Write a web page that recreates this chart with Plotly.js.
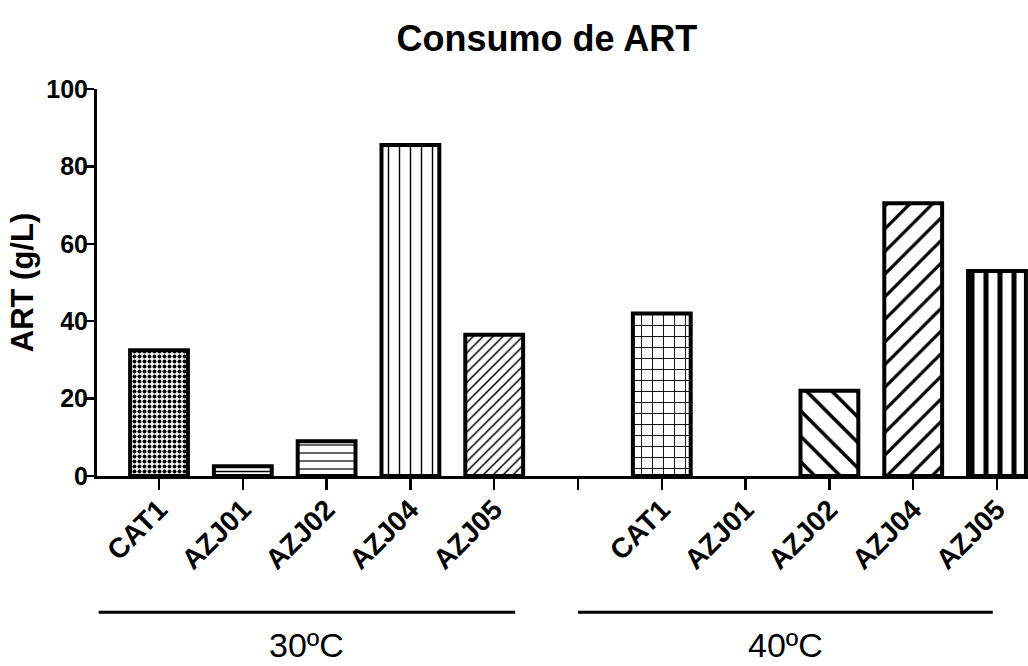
<!DOCTYPE html>
<html>
<head>
<meta charset="utf-8">
<script src="https://cdn.plot.ly/plotly-3.0.1.min.js"></script>
<style>html,body{margin:0;padding:0;background:#fff;}#chart{width:1028px;height:666px;}</style>
</head>
<body>
<div id="chart"></div>
<script>
// ---- data ----
const strains = ['CAT1', 'AZJ01', 'AZJ02', 'AZJ04', 'AZJ05'];
const temps = ['30ºC', '40ºC'];
const art30 = [32.5, 2.5, 9, 85.5, 36.5];
const art40 = [42, 0, 22, 70.5, 53];
const chartTitle = 'Consumo de ART';
const yTitle = 'ART (g/L)';
const yTicks = [0, 20, 40, 60, 80, 100];

// ---- styles ----
const FONT = 'Liberation Sans, Arial, Helvetica, sans-serif';
const pat30 = {shape: ['.', '-', '-', '|', '/'], size: [5, 5, 8, 11, 7], solidity: [0.5, 0.3, 0.15, 0.13, 0.22]};
const pat40 = {shape: ['+', '', '\\', '/', '|'], size: [11, 10, 18, 16, 14], solidity: [0.16, 0.2, 0.2, 0.2, 0.36]};

const groupSize = strains.length + 1; // one empty slot between groups
const pos = (g, i) => g * groupSize + i;

function barTrace(g, vals, pat) {
  return {
    type: 'bar',
    x: strains.map((s, i) => pos(g, i)),
    y: vals,
    width: 0.69,
    marker: {
      color: '#ffffff',
      line: {color: '#000000', width: vals.map(v => v > 0 ? 4 : 0)},
      pattern: {shape: pat.shape, size: pat.size, solidity: pat.solidity, fgcolor: '#000000', bgcolor: '#ffffff', fillmode: 'replace'}
    },
    hoverinfo: 'x+y',
    showlegend: false
  };
}

const traces = [barTrace(0, art30, pat30), barTrace(1, art40, pat40)];

const tickvals = [], ticktext = [];
temps.forEach((t, g) => {
  strains.forEach((s, i) => { tickvals.push(pos(g, i)); ticktext.push(s); });
  if (g < temps.length - 1) { tickvals.push(pos(g, strains.length)); ticktext.push(''); }
});

const shapes = [], annotations = [];
temps.forEach((t, g) => {
  const x0 = g === 0 ? pos(g, 0) - 0.72 : pos(g, 0) - 1.0;
  const x1 = pos(g, strains.length - 1) + (g === 0 ? 0.25 : -0.05);
  shapes.push({type: 'line', xref: 'x', yref: 'paper', x0: x0, x1: x1, y0: -0.352, y1: -0.352,
    line: {color: '#000000', width: 3}});
  annotations.push({xref: 'x', yref: 'paper', x: (x0 + x1) / 2, y: -0.436, text: t, showarrow: false,
    font: {family: FONT, size: 34, color: '#000000'}, xanchor: 'center', yanchor: 'middle'});
});

const layout = {
  width: 1028, height: 666,
  margin: {l: 97, r: 0, t: 89, b: 190},
  paper_bgcolor: '#ffffff', plot_bgcolor: '#ffffff',
  title: {text: '<b>' + chartTitle + '</b>', x: 0.532, xanchor: 'center', y: 0.943, yanchor: 'middle',
    font: {family: FONT, size: 36, color: '#000000'}},
  font: {family: FONT, color: '#000000'},
  xaxis: {
    range: [-0.74, 10.37], tickmode: 'array', tickvals: tickvals,
    ticktext: ticktext.map(s => s ? '<b>' + s + '</b>' : ''),
    tickangle: -45, ticks: 'outside', ticklen: 11, tickwidth: 2.5, tickcolor: '#000',
    ticklabelstandoff: -8,
    showline: true, linecolor: '#000', linewidth: 3, showgrid: false, zeroline: false,
    tickfont: {family: FONT, size: 28, color: '#000'}
  },
  yaxis: {
    range: [0, 100], tickmode: 'array', tickvals: yTicks, ticktext: yTicks.map(v => '<b>' + v + '</b>'),
    ticks: 'outside', ticklen: 8, tickwidth: 2.5, tickcolor: '#000',
    ticklabelstandoff: -7,
    showline: true, linecolor: '#000', linewidth: 3, showgrid: false, zeroline: false,
    tickfont: {family: FONT, size: 25, color: '#000'},
    title: {text: '<b>' + yTitle + '</b>', font: {family: FONT, size: 31, color: '#000'}, standoff: 4}
  },
  bargap: 0.3,
  shapes: shapes,
  annotations: annotations
};

Plotly.newPlot('chart', traces, layout, {displayModeBar: false, staticPlot: true});
</script>
</body>
</html>
